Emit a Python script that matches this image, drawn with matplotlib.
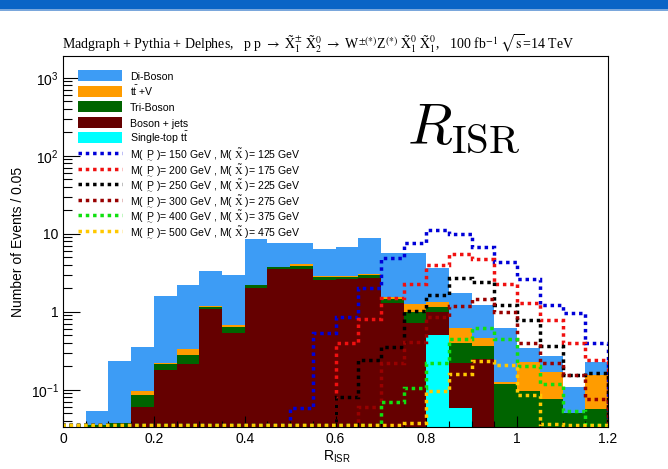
import numpy as np
import matplotlib
matplotlib.use("Agg")
import matplotlib.pyplot as plt
from matplotlib.patches import Rectangle
from matplotlib.lines import Line2D
from matplotlib.ticker import FixedLocator, FixedFormatter, MultipleLocator, LogLocator, NullFormatter

plt.rcParams['font.family'] = ['Liberation Sans', 'DejaVu Sans']
plt.rcParams['mathtext.fontset'] = 'custom'
plt.rcParams['mathtext.rm'] = 'Liberation Sans'
plt.rcParams['mathtext.it'] = 'Liberation Sans:italic'
plt.rcParams['mathtext.bf'] = 'Liberation Sans:bold'
plt.rcParams['mathtext.sf'] = 'Liberation Sans'
plt.rcParams['mathtext.tt'] = 'Liberation Serif'

# ---- binning: R_ISR in 0.05 wide bins from 0 to 1.2 ----
bin_width = 0.05
n_bins = 24
edges = np.arange(n_bins + 1) * bin_width

# ---- background yields per bin (stacked bottom -> top) ----
single_top = [0, 0, 0, 0, 0, 0, 0, 0, 0, 0, 0, 0,
              0, 0, 0, 0, 0.50, 0.058, 0, 0, 0, 0, 0, 0]
boson_jets = [0, 0, 0, 0.061, 0.179, 0.214, 1.09, 0.54, 2.02, 3.54, 3.54, 2.56,
              2.61, 2.69, 1.28, 0.725, 0.486, 0.164, 0.246, 0, 0, 0, 0, 0]
tri_boson = [0, 0.035, 0.038, 0.025, 0.035, 0.065, 0.05, 0.104, 0.17, 0.18, 0.29, 0.21,
             0.19, 0.28, 0.19, 0.275, 0.174, 0.178, 0.121, 0.119, 0.098, 0.0755, 0.051, 0.056]
ttbar_v = [0, 0, 0, 0.012, 0.009, 0.054, 0.03, 0.036, 0.03, 0.03, 0.27, 0.13,
           0.10, 0.11, 0.08, 0.26, 0.19, 0.214, 0.099, 0.006, 0.131, 0.0955, 0, 0.099]
di_boson = [0, 0.019, 0.198, 0.252, 1.357, 1.877, 2.19, 2.31, 6.28, 3.95, 3.45, 3.4,
            3.94, 5.82, 4.07, 4.47, 2.32, 1.146, 0.744, 0.489, 0.118, 0.10, 0.057, 0.074]

# ---- signal yields per bin ----
sig_150_125 = [0, 0, 0, 0, 0, 0, 0, 0, 0, 0, 0.058, 0.53,
               0.865, 2.04, 4.94, 7.55, 11.2, 9.86, 6.84, 4.31, 2.61, 1.21, 0.97, 0.40]
sig_200_175 = [0, 0, 0, 0, 0, 0, 0, 0, 0, 0, 0, 0,
               0.40, 0.80, 1.52, 2.25, 3.98, 5.51, 4.71, 2.25, 1.31, 0.785, 0.40, 0.241]
sig_250_225 = [0, 0, 0, 0, 0, 0, 0, 0, 0, 0, 0, 0,
               0.082, 0.241, 0.357, 1.02, 1.64, 2.73, 2.39, 1.21, 0.785, 0.37, 0.155, 0.163]
sig_300_275 = [0, 0, 0, 0, 0, 0, 0, 0, 0, 0, 0, 0,
               0, 0.061, 0.22, 0.414, 0.85, 1.19, 1.46, 1.0, 0.40, 0.22, 0.155, 0.076]
sig_400_375 = [0, 0, 0, 0, 0, 0, 0, 0, 0, 0, 0, 0,
               0, 0, 0.070, 0.106, 0.22, 0.443, 0.625, 0.443, 0.204, 0.119, 0.054, 0]
sig_500_475 = [0, 0, 0, 0, 0, 0, 0, 0, 0, 0, 0, 0,
               0, 0, 0, 0.038, 0.0975, 0.16, 0.236, 0.208, 0.0865, 0.037, 0, 0]

background_names = ['Single-top t$\\bar{\\mathrm{t}}$', 'Boson + jets', 'Tri-Boson',
                    't$\\bar{\\mathrm{t}}$ +V', 'Di-Boson']
background_values = [single_top, boson_jets, tri_boson, ttbar_v, di_boson]
background_colors = ['#00ffff', '#650000', '#006400', '#ff9c00', '#3d9cf5']

mass_p = [150, 200, 250, 300, 400, 500]
mass_x = [125, 175, 225, 275, 375, 475]
signal_values = [sig_150_125, sig_200_175, sig_250_225, sig_300_275, sig_400_375, sig_500_475]
signal_colors = ['#0000d8', '#f01010', '#000000', '#980000', '#10e010', '#ffc800']

y_min, y_max = 0.0334, 1900.0

W, H = 668, 469
fig = plt.figure(figsize=(W / 100, H / 100), dpi=100)
fig.patch.set_facecolor('white')


def fx(px):
    return px / W


def fy(px):
    return 1 - px / H


ax = fig.add_axes([fx(63), fy(427), fx(608) - fx(63), fy(56) - fy(427)])
ax.set_yscale('log')
ax.set_xlim(0, 1.2)
ax.set_ylim(y_min, y_max)

# stacked backgrounds
lower = np.full(n_bins, 1e-6)
for vals, col in zip(background_values, background_colors):
    upper = lower + np.asarray(vals, dtype=float)
    ax.stairs(upper, edges, baseline=lower, fill=True, color=col, linewidth=0)
    lower = upper

# signal outlines (empty bins rest on the lower frame)
floor = y_min * 1.06
for vals, col in zip(signal_values, signal_colors):
    v = np.maximum(np.asarray(vals, dtype=float), floor)
    ax.stairs(v, edges, color=col, linewidth=2.5, linestyle=(0, (1.0, 1.1)),
              capstyle='butt', zorder=3)

# axes styling
for s in ax.spines.values():
    s.set_linewidth(0.8)
    s.set_color('black')
    s.set_zorder(5)
ax.xaxis.set_major_locator(MultipleLocator(0.2))
ax.xaxis.set_minor_locator(MultipleLocator(0.05))
ax.xaxis.set_major_formatter(matplotlib.ticker.FuncFormatter(lambda v, p: '%g' % round(v, 2)))
ax.yaxis.set_major_locator(FixedLocator([0.1, 1, 10, 100, 1000]))
ax.yaxis.set_major_formatter(FixedFormatter(['$10^{-1}$', '1', '10', '$10^{2}$', '$10^{3}$']))
ax.yaxis.set_minor_locator(LogLocator(base=10, subs=np.arange(2, 10)))
ax.yaxis.set_minor_formatter(NullFormatter())
ax.tick_params(axis='both', which='both', direction='in', top=False, right=False,
               labelsize=10, width=0.8, zorder=6)
ax.tick_params(axis='y', which='major', length=12, pad=3)
ax.tick_params(axis='y', which='minor', length=6.5)
ax.tick_params(axis='x', which='major', length=8, pad=3.5)
ax.tick_params(axis='x', which='minor', length=4)

fig.text(fx(18), fy(241.5), 'Number of Events / 0.05', rotation=90,
         ha='center', va='center', fontsize=10)
fig.text(fx(337), fy(457), 'R$_{\\mathrm{ISR}}$', ha='center', va='center', fontsize=10)

# header band
fig.add_artist(Rectangle((0, fy(9.5)), 1, fy(0) - fy(9.5), transform=fig.transFigure,
                         facecolor='#0a64c6', edgecolor='none'))
fig.add_artist(Rectangle((0, fy(11)), 1, fy(9.5) - fy(11), transform=fig.transFigure,
                         facecolor='#7aa7dc', edgecolor='none'))

# process title
title = ('Madgraph + Pythia + Delphes,   p p $\\rightarrow$ '
         '$\\tilde{\\mathrm{X}}_1^{\\pm}\\ \\tilde{\\mathrm{X}}_2^{0}$ $\\rightarrow$ '
         'W$^{\\pm(*)}$Z$^{(*)}$ $\\tilde{\\mathrm{X}}_1^{0}\\ \\tilde{\\mathrm{X}}_1^{0}$,   '
         '100 fb$^{-1}$ $\\sqrt{\\mathrm{s}}$=14 TeV')
fig.text(fx(62), fy(49.5), title, ha='left', va='baseline', fontsize=10,
         family='Liberation Serif', math_fontfamily='stix')

# large variable label
fig.text(fx(407), fy(143), '$R_{\\mathrm{ISR}}$', ha='left', va='baseline',
         fontsize=42, math_fontfamily='cm')

# legend
row_y = 76.0
row_step = 15.47
legend_rows = []
for name, col in zip(background_names[::-1], background_colors[::-1]):
    legend_rows.append(('fill', name, col))
for mp, mx, col in zip(mass_p, mass_x, signal_colors):
    lab = ('M( $\\underset{\\sim}{\\mathrm{P}}$ )= %d GeV , M( $\\tilde{\\mathtt{X}}$ )= %d GeV'
           % (mp, mx))
    legend_rows.append(('line', lab, col))

for i, (kind, lab, col) in enumerate(legend_rows):
    yc = row_y + i * row_step
    if kind == 'fill':
        fig.add_artist(Rectangle((fx(78), fy(yc + 5.5)), fx(122) - fx(78), fy(yc - 5.5) - fy(yc + 5.5),
                                 transform=fig.transFigure, facecolor=col, edgecolor='none'))
    else:
        fig.add_artist(Line2D([fx(78), fx(122)], [fy(yc), fy(yc)], transform=fig.transFigure,
                              color=col, linewidth=2.5, linestyle=(0, (1.0, 1.1)),
                              dash_capstyle='butt'))
    fig.text(fx(130), fy(yc + 4.5), lab, ha='left', va='baseline', fontsize=7.6)

fig.savefig('out.png', dpi=100)
